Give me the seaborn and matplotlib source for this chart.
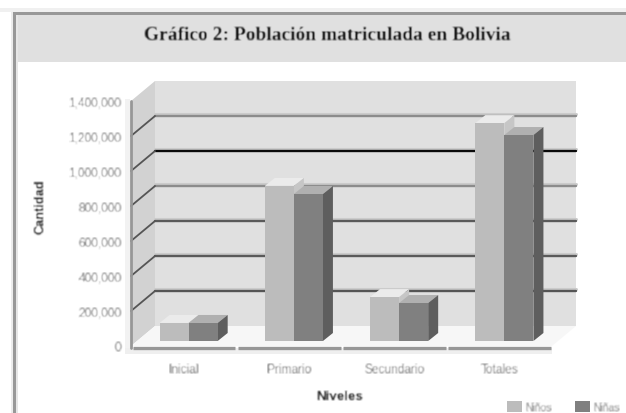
#!/usr/bin/env python3
"""
Gráfico 2: población matriculada en Bolivia, fake 3D bars on a seaborn barplot.
"""

import numpy as np
import pandas as pd
import seaborn as sns
import matplotlib
matplotlib.use("Agg")
import matplotlib.pyplot as plt
from matplotlib.patches import Polygon, Rectangle
from matplotlib.transforms import IdentityTransform

niveles = ["Inicial", "Primario", "Secundario", "Totales"]
ninos = [103000, 886000, 251000, 1245000]
ninas = [103000, 840000, 217000, 1177000]
yticks = [0, 200000, 400000, 600000, 800000, 1000000, 1200000, 1400000]
grid_colors = ["#555555", "#5a5a5a", "#5a5a5a", "#8c8c8c", "#0a0a0a", "#8c8c8c"]

W, H = 626, 414
ident = IdentityTransform()


def soft(amount):
    # small box blur, the reference is a blurry upscaled image
    def flt(img, dpi):
        pad = 3
        out = np.pad(img, ((pad, pad), (pad, pad), (0, 0)), mode="constant")
        kernel = np.array([amount, 1.0, amount])
        kernel = kernel / kernel.sum()
        for axis in (0, 1):
            out = np.apply_along_axis(lambda m: np.convolve(m, kernel, mode="same"), axis, out)
        return out, -pad, -pad
    return flt


def box(x0, y0, x1, y1, color, z=0):
    # pixel box measured from the top left of the page
    fig.add_artist(Rectangle((x0, H - y1), x1 - x0, y1 - y0, transform=ident,
                             facecolor=color, edgecolor="none", zorder=z))


df = pd.DataFrame({
    "Niveles": niveles * 2,
    "Cantidad": ninos + ninas,
    "Sexo": ["Niños"] * 4 + ["Niñas"] * 4,
})

sns.set_style("white")
plt.rcParams["font.family"] = ["Liberation Sans", "DejaVu Sans"]

fig = plt.figure(figsize=(W / 100, H / 100), dpi=100)
ax = fig.add_axes([131 / W, (H - 347) / H, (552 - 131) / W, (347 - 102) / H])
ax.patch.set_visible(False)

sns.barplot(data=df, x="Niveles", y="Cantidad", hue="Sexo", order=niveles,
            palette=["#bcbcbc", "#808080"], width=0.552, saturation=1,
            gap=0, ax=ax, legend=True, linewidth=0)
ax.set_xlim(-0.5, 3.5)
ax.set_ylim(0, 1400000)
sns.despine(ax=ax, left=True, bottom=True, top=True, right=True)

# page furniture
box(0, 9, W, 13, "#f0f0f0", 0)
box(16, 16, W, 63, "#e0e0e0", 0)
box(16, 13, W, 16, "#989898", 0)
box(13, 13, 16, H, "#989898", 0)
box(16, 16, 18, H, "#e6e6e6", 0)
box(11, 13, 13, H, "#ececec", 0)
box(125, 100, 130, 352, "#f2f2f2", 0)
box(125, 349, 552, 355, "#efefef", 0)

DX, DY = 24, 20
x_left, y_zero = ax.transData.transform((-0.5, 0))
x_right, y_top = ax.transData.transform((3.5, 1400000))


def face(pts, color, z):
    ax.add_patch(Polygon(pts, closed=True, transform=ident, clip_on=False,
                         facecolor=color, edgecolor="none", zorder=z))


# back wall, left wall, floor
face([(x_left + DX, y_zero + DY), (x_right + DX, y_zero + DY),
      (x_right + DX, y_top + DY), (x_left + DX, y_top + DY)], "#e0e0e0", 0.1)
face([(x_left, y_zero), (x_left + DX, y_zero + DY),
      (x_left + DX, y_top + DY), (x_left, y_top)], "#d2d2d2", 0.2)
face([(x_left, y_zero), (x_right, y_zero),
      (x_right + DX, y_zero + DY), (x_left + DX, y_zero + DY)], "#f7f7f7", 0.3)

# grid lines, back wall and going round the left wall
for value, color in zip(yticks[1:-1], grid_colors):
    _, yv = ax.transData.transform((0, value))
    ax.plot([x_left + DX, x_right + DX], [yv + DY + 2, yv + DY + 2], transform=ident,
            color="#cbcbcb", lw=2.2, zorder=0.4, clip_on=False)
    ax.plot([x_left + DX, x_right + DX], [yv + DY, yv + DY], transform=ident,
            color=color, lw=1.7, zorder=0.5, clip_on=False)
    ax.plot([x_left, x_left + DX], [yv, yv + DY], transform=ident,
            color="#555555", lw=1.3, zorder=0.5, clip_on=False)

# axis lines with gaps between categories
ax.plot([x_left, x_left], [y_zero - 2, y_top], transform=ident, color="#979797",
        lw=2, zorder=1, clip_on=False)
edges = [-0.5, 0.5, 1.5, 2.5, 3.5]
for a, b in zip(edges[:-1], edges[1:]):
    xa = ax.transData.transform((a, 0))[0]
    xb = ax.transData.transform((b, 0))[0]
    ax.plot([xa + 1.5, xb - 1], [y_zero - 2, y_zero - 2], transform=ident, color="#979797",
            lw=2.4, zorder=1, clip_on=False, solid_capstyle="butt")

# the bars sit a little inside the floor, then get top and side faces
BX, BY, TX, TY = 5, 5, 10, 8
series_faces = [("#ebebeb", "#c6c6c6"), ("#b0b0b0", "#5e5e5e")]
for i, (container, (top_c, side_c)) in enumerate(zip(ax.containers, series_faces)):
    for bar in container:
        (x0, y0), (x1, y1) = ax.transData.transform(
            [(bar.get_x(), 0), (bar.get_x() + bar.get_width(), bar.get_height())])
        x0, x1, y0, y1 = x0 + BX, x1 + BX, y0 + BY, y1 + BY
        bar.set_transform(ident)
        bar.set_xy((x0, y0))
        bar.set_width(x1 - x0)
        bar.set_height(y1 - y0)
        bar.set_clip_on(False)
        bar.set_zorder(3.1 + i)
        face([(x0, y1), (x1, y1), (x1 + TX, y1 + TY), (x0 + TX, y1 + TY)], top_c, 3 + i)
        face([(x1, y0), (x1 + TX, y0 + TY), (x1 + TX, y1 + TY), (x1, y1)], side_c, 3 + i)

# axis text
ax.set_yticks(yticks)
ax.set_yticklabels([f"{v:,}" for v in yticks])
ax.tick_params(axis="both", length=0)
ax.tick_params(axis="y", pad=7, labelsize=8.6, labelcolor="#757575")
ax.tick_params(axis="x", pad=12, labelsize=8.6, labelcolor="#757575")
ax.set_xlabel("")
ax.set_ylabel("")

texts = list(ax.get_xticklabels()) + list(ax.get_yticklabels())
texts.append(fig.text(40 / W, 1 - 207 / H, "Cantidad", rotation=90, ha="center", va="center",
                      fontsize=9.2, color="#222222", fontweight="bold"))
texts.append(fig.text(340 / W, 1 - 397 / H, "Niveles", ha="center", va="center",
                      fontsize=9.6, color="#222222", fontweight="bold"))
texts.append(fig.text(327 / W, 1 - 35 / H, "Gráfico 2: Población matriculada en Bolivia",
                      ha="center", va="center", fontsize=14, color="#111111",
                      fontweight="bold", family=["Liberation Serif", "DejaVu Serif"]))

handles, labels = ax.get_legend_handles_labels()
leg = ax.legend(handles, labels, loc="lower left", bbox_to_anchor=(507 / W, 1 / H),
                bbox_transform=fig.transFigure, ncol=2, frameon=False, fontsize=7.4,
                handlelength=1.45, handleheight=1.25, handletextpad=0.3, columnspacing=2.3,
                labelcolor="#808080", borderpad=0, borderaxespad=0, labelspacing=0)
texts.extend(leg.get_texts())

for t in texts:
    t.set_agg_filter(soft(0.55))

fig.savefig("out.png", dpi=100, facecolor="white")
